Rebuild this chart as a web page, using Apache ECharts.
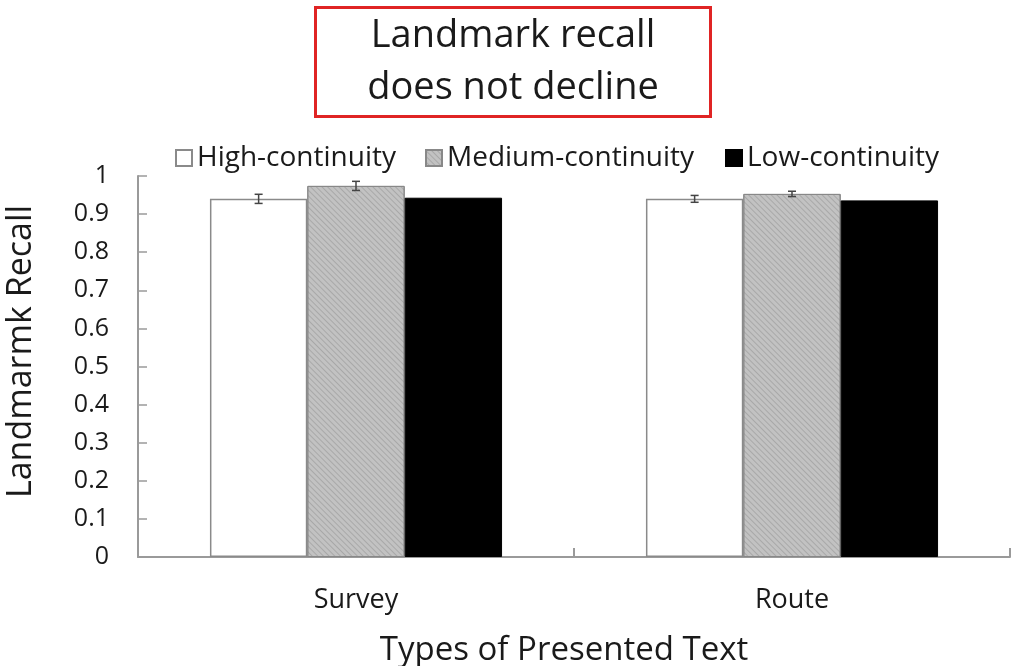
<!DOCTYPE html>
<html>
<head>
<meta charset="utf-8">
<script src="https://cdn.jsdelivr.net/npm/echarts@6/dist/echarts.min.js"></script>
<style>
html,body{margin:0;padding:0;background:#fff;}
#chart{width:1011px;height:666px;}
</style>
</head>
<body>
<div id="chart"></div>
<script>
const categories = ['Survey', 'Route'];
const seriesNames = ['High-continuity', 'Medium-continuity', 'Low-continuity'];
const highValues = [0.940, 0.940];
const mediumValues = [0.974, 0.953];
const lowValues = [0.943, 0.936];
const highErrors = [0.012, 0.009];
const mediumErrors = [0.012, 0.007];
const yTicks = [0, 0.1, 0.2, 0.3, 0.4, 0.5, 0.6, 0.7, 0.8, 0.9, 1];

const FONT = 'Open Sans';
const TXT = '#1a1a1a';
const chart = echarts.init(document.getElementById('chart'), null, {renderer: 'canvas'});

const CAT_GAP = 0.33;
function errSeries(values, errs, idx) {
  return {
    type: 'custom',
    name: seriesNames[idx] + ' error',
    z: 10,
    silent: true,
    data: values.map((v, i) => [i, v, errs[i]]),
    renderItem: function (params, api) {
      const ci = api.value(0), v = api.value(1), e = api.value(2);
      const band = api.size([1, 0])[0];
      const bw = band * (1 - CAT_GAP) / 3;
      const center = api.coord([ci, v]);
      const x = center[0] + (idx - 1) * bw;
      const top = api.coord([ci, v + e])[1];
      const bot = api.coord([ci, v - e])[1];
      const cap = 4;
      const style = {stroke: '#444', lineWidth: 1.5};
      return {
        type: 'group',
        children: [
          {type: 'line', shape: {x1: x, y1: top, x2: x, y2: bot}, style: style},
          {type: 'line', shape: {x1: x - cap, y1: top, x2: x + cap, y2: top}, style: style},
          {type: 'line', shape: {x1: x - cap, y1: bot, x2: x + cap, y2: bot}, style: style}
        ]
      };
    }
  };
}

const legendLefts = [170, 420, 720];
const option = {
  backgroundColor: '#fff',
  animation: false,
  title: {
    text: 'Landmark recall\ndoes not decline',
    left: 461,
    textAlign: 'center',
    top: 7,
    padding: [3, 52, 3, 52],
    borderColor: '#e02424',
    borderWidth: 3,
    textStyle: {fontFamily: FONT, fontSize: 38, fontWeight: 'normal', color: TXT, lineHeight: 52, align: 'center'}
  },
  legend: seriesNames.map((n, i) => ({
    left: legendLefts[i],
    top: 139,
    icon: 'rect',
    itemWidth: 16,
    itemHeight: 16,
    data: [n],
    textStyle: {fontFamily: FONT, fontSize: 28, color: TXT, padding: [0, 0, 0, 0]}
  })),
  grid: {left: 138, right: 1, top: 176, bottom: 109, containLabel: false, outerBoundsMode: 'none'},
  xAxis: {
    type: 'category',
    data: categories,
    name: 'Types of Presented Text',
    nameLocation: 'middle',
    nameGap: 77,
    nameTextStyle: {fontFamily: FONT, fontSize: 33, color: TXT, padding: [0, 20, 0, 0]},
    axisLine: {lineStyle: {color: '#9a9a9a', width: 2}},
    axisTick: {show: true, inside: true, length: 9, lineStyle: {color: '#9a9a9a', width: 2}},
    axisLabel: {fontFamily: FONT, fontSize: 27, color: TXT, margin: 30}
  },
  yAxis: {
    type: 'value',
    min: 0,
    max: 1,
    interval: 0.1,
    name: 'Landmarmk Recall',
    nameLocation: 'middle',
    nameGap: 100,
    nameTextStyle: {fontFamily: FONT, fontSize: 34, color: TXT, padding: [0, 0, 0, 30]},
    splitLine: {show: false},
    axisLine: {show: true, lineStyle: {color: '#9a9a9a', width: 2}},
    axisTick: {show: true, inside: true, length: 9, lineStyle: {color: '#9a9a9a', width: 1.5}},
    axisLabel: {fontFamily: FONT, fontSize: 25, color: TXT, margin: 29,
      formatter: v => String(yTicks.find(t => Math.abs(t - v) < 1e-9) ?? v)}
  },
  series: [
    {
      name: seriesNames[0], type: 'bar', data: highValues,
      barGap: '0%', barCategoryGap: (CAT_GAP * 100) + '%',
      itemStyle: {color: '#ffffff', borderColor: '#8a8a8a', borderWidth: 1.5}
    },
    {
      name: seriesNames[1], type: 'bar', data: mediumValues,
      barGap: '0%', barCategoryGap: (CAT_GAP * 100) + '%',
      itemStyle: {
        color: '#c2c2c2', borderColor: '#888', borderWidth: 1,
        decal: {symbol: 'rect', symbolSize: 1, color: 'rgba(120,120,120,0.35)',
          dashArrayX: [1, 0], dashArrayY: [1, 3], rotation: Math.PI / 4}
      }
    },
    {
      name: seriesNames[2], type: 'bar', data: lowValues,
      barGap: '0%', barCategoryGap: (CAT_GAP * 100) + '%',
      itemStyle: {color: '#000000', borderColor: '#000', borderWidth: 1}
    },
    errSeries(highValues, highErrors, 0),
    errSeries(mediumValues, mediumErrors, 1)
  ]
};
chart.setOption(option);
</script>
</body>
</html>
